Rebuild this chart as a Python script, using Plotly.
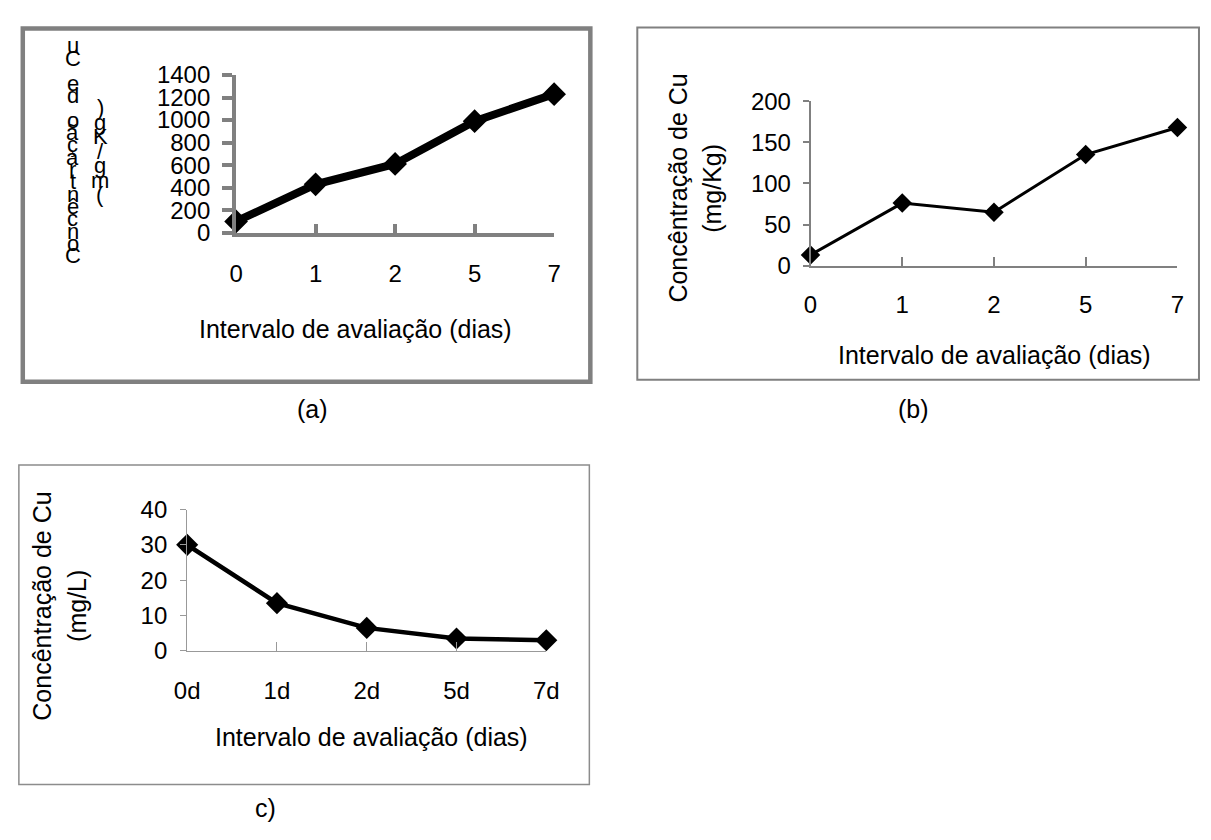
import plotly.graph_objects as go

# ---- data ----
dias = ["0", "1", "2", "5", "7"]
dias_c = ["0d", "1d", "2d", "5d", "7d"]
cu_a = [100, 430, 610, 990, 1230]      # mg/Kg
cu_b = [13, 76, 65, 135, 168]          # mg/Kg
cu_c = [30, 13.5, 6.5, 3.5, 3.0]       # mg/L

title_x = "Intervalo de avaliação (dias)"
title_y1 = "Concêntração de Cu"
title_y2a = "(mg/Kg)"
title_y2c = "(mg/L)"

W, H = 1211, 840
FONT = "Liberation Sans, Arial, sans-serif"


def px(x):
    return x / W


def py(y):
    return 1 - y / H


fig = go.Figure()

fig.add_trace(go.Scatter(x=dias, y=cu_a, xaxis="x", yaxis="y", mode="lines+markers",
                         line=dict(color="black", width=8),
                         marker=dict(symbol="diamond", size=15, color="black",
                                     line=dict(color="black", width=3)),
                         cliponaxis=False, showlegend=False))
fig.add_trace(go.Scatter(x=dias, y=cu_b, xaxis="x2", yaxis="y2", mode="lines+markers",
                         line=dict(color="black", width=3),
                         marker=dict(symbol="diamond", size=15, color="black"),
                         cliponaxis=False, showlegend=False))
fig.add_trace(go.Scatter(x=dias_c, y=cu_c, xaxis="x3", yaxis="y3", mode="lines+markers",
                         line=dict(color="black", width=4.5),
                         marker=dict(symbol="diamond", size=17, color="black"),
                         cliponaxis=False, showlegend=False))

tickfont = dict(family=FONT, size=24, color="black")


def xax(dom, anchor, lw, col, standoff):
    return dict(domain=dom, anchor=anchor, type="category", range=[0, 4],
                showline=True, linecolor=col, linewidth=lw, showgrid=False, zeroline=False,
                ticks="inside", ticklen=9, tickwidth=lw, tickcolor=col,
                tickfont=tickfont, ticklabelstandoff=standoff, fixedrange=True)


def yax(dom, anchor, rng, dtick, lw, col, ticklen, standoff):
    return dict(domain=dom, anchor=anchor, range=rng, dtick=dtick,
                showline=True, linecolor=col, linewidth=lw, showgrid=False, zeroline=False,
                ticks="outside", ticklen=ticklen, tickwidth=lw, tickcolor=col,
                tickfont=tickfont, ticklabelstandoff=standoff, fixedrange=True)


fig.update_layout(
    width=W, height=H, margin=dict(l=0, r=0, t=0, b=0),
    paper_bgcolor="white", plot_bgcolor="white", showlegend=False,
    xaxis=xax([px(228), px(553)], "y", 4, "#808080", 16),
    yaxis=yax([py(226), py(63)], "x", [0, 1400], 200, 4, "#808080", 10, 7),
    xaxis2=xax([px(815), px(1190)], "y2", 1.5, "#808080", 17),
    yaxis2=yax([py(260), py(90)], "x2", [0, 200], 50, 1.5, "#808080", 6, 7),
    xaxis3=xax([px(178), px(545)], "y3", 1.2, "#999999", 18),
    yaxis3=yax([py(658), py(512)], "x3", [0, 40], 10, 1.2, "#999999", 6, 8),
)

# panel frames
fig.add_shape(type="rect", xref="paper", yref="paper", x0=px(10), x1=px(590), y0=py(380), y1=py(15),
              line=dict(color="#808080", width=4.5), layer="below")
fig.add_shape(type="rect", xref="paper", yref="paper", x0=px(638), x1=px(1212), y0=py(378), y1=py(14),
              line=dict(color="#808080", width=2), layer="below")
fig.add_shape(type="rect", xref="paper", yref="paper", x0=px(6), x1=px(589), y0=py(796), y1=py(466),
              line=dict(color="#8c8c8c", width=1.5), layer="below")

ann = []
tfont = dict(family=FONT, size=25, color="black")


def note(text, x, y, font, angle=0):
    ann.append(dict(text=text, x=px(x), y=py(y), xref="paper", yref="paper", showarrow=False,
                    xanchor="center", yanchor="middle", textangle=angle, font=font))


# x-axis titles
note(title_x, 350, 325, tfont)
note(title_x, 1003, 352, tfont)
note(title_x, 366, 747, tfont)

# rotated y titles (b) and (c)
note(title_y1, 680, 180, tfont, -90)
note(title_y2a, 715, 180, tfont, -90)
note(title_y1, 30, 612, tfont, -90)
note(title_y2c, 66, 612, tfont, -90)

# stacked (garbled) y title of panel (a): characters stacked bottom-to-top
sfont = dict(family=FONT, size=22, color="black")
chars1 = list(title_y1)[::-1]
step1 = (250 - 33) / (len(chars1) - 1)
for i, ch in enumerate(chars1):
    if ch.strip():
        note(ch, 61, 33 + i * step1, sfont)
chars2 = list(title_y2a)[::-1]
step2 = (187 - 97) / (len(chars2) - 1)
for i, ch in enumerate(chars2):
    note(ch, 89, 97 + i * step2, sfont)

# panel captions
cfont = dict(family=FONT, size=25, color="black")
note("(a)", 306, 408, cfont)
note("(b)", 920, 408, cfont)
note("c)", 258, 820, cfont)

fig.update_layout(annotations=ann)
fig.write_html("out.html", config={"displayModeBar": False},
               post_script="document.body.style.margin='0';document.body.style.overflow='hidden';")
